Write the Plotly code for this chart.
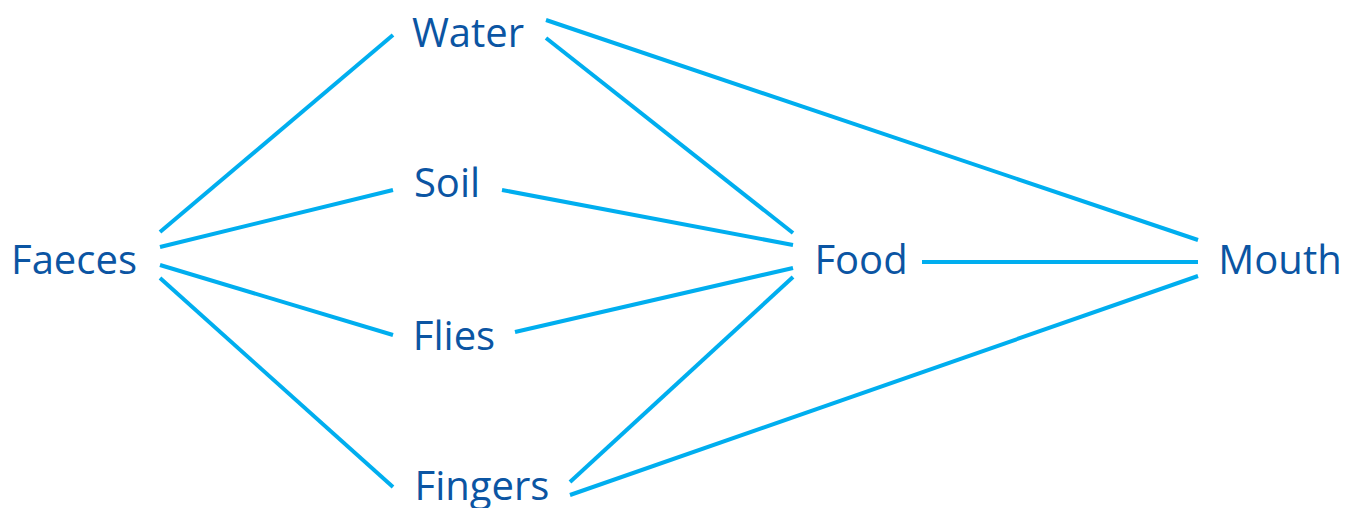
import plotly.graph_objects as go

# Node labels and their centre positions (pixel space of the diagram)
node_names = ["Faeces", "Water", "Soil", "Flies", "Fingers", "Food", "Mouth"]
node_x = [74, 468, 447, 454, 482, 861, 1280]
node_y = [264, 37, 187, 340, 490, 264, 264]

# Edges: start and end points of each connecting line
edge_from = ["Faeces", "Faeces", "Faeces", "Faeces", "Water", "Water", "Soil", "Flies", "Fingers", "Fingers", "Food"]
edge_to = ["Water", "Soil", "Flies", "Fingers", "Food", "Mouth", "Food", "Food", "Food", "Mouth", "Mouth"]
edge_x0 = [160, 160, 160, 160, 546, 546, 502, 515, 570, 570, 922]
edge_y0 = [232, 247, 265, 278, 38, 20, 190, 332, 482, 495, 262]
edge_x1 = [393, 393, 393, 393, 793, 1198, 793, 793, 793, 1198, 1198]
edge_y1 = [35, 190, 335, 487, 233, 240, 245, 268, 277, 276, 262]

line_color = "#00aeef"
text_color = "#0b55a3"

fig = go.Figure()
for i in range(len(edge_from)):
    fig.add_trace(go.Scatter(
        x=[edge_x0[i], edge_x1[i]], y=[edge_y0[i], edge_y1[i]],
        mode="lines", line=dict(color=line_color, width=4),
        hoverinfo="skip", showlegend=False,
    ))

fig.add_trace(go.Scatter(
    x=node_x, y=node_y, mode="text", text=node_names,
    textposition="middle center",
    textfont=dict(family="Open Sans", size=40, color=text_color),
    showlegend=False, hoverinfo="text",
))

fig.update_layout(
    width=1357, height=508,
    margin=dict(l=0, r=0, t=0, b=0),
    paper_bgcolor="white", plot_bgcolor="white",
    xaxis=dict(range=[0, 1357], visible=False, fixedrange=True),
    yaxis=dict(range=[508, 0], visible=False, fixedrange=True),
)

fig.write_html(
    "out.html",
    config={"displayModeBar": False},
    post_script="document.body.style.margin='0';document.body.style.overflow='hidden';",
)
